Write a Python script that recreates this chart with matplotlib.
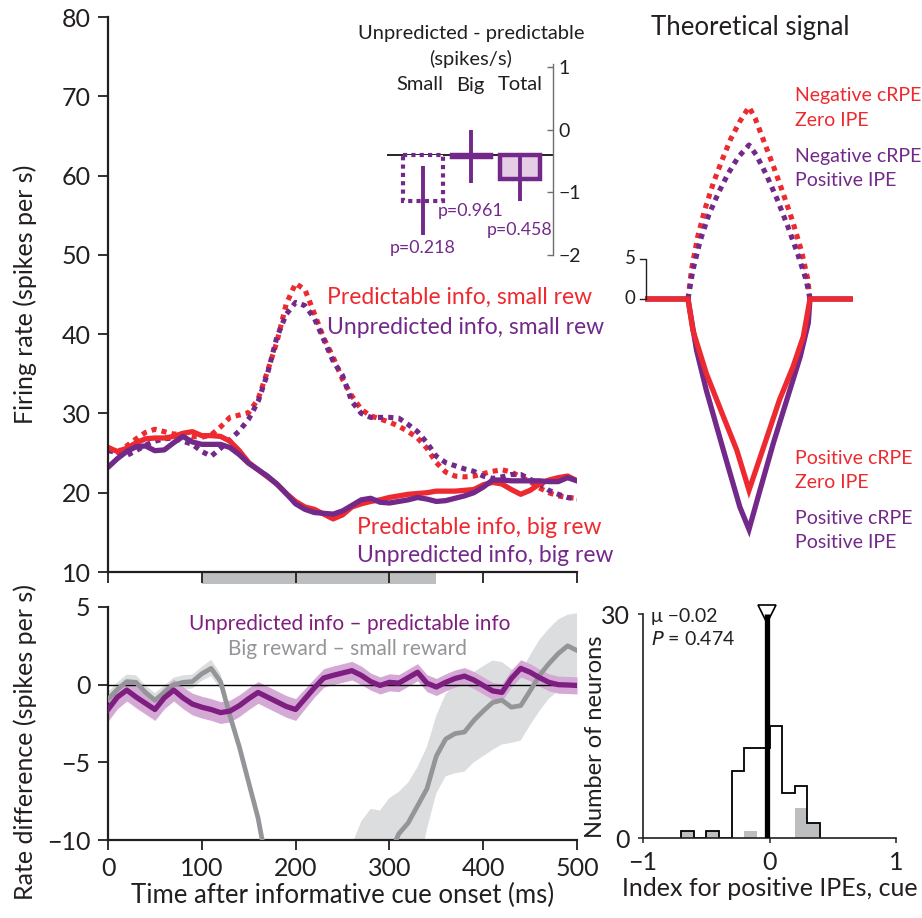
import numpy as np
import matplotlib
matplotlib.use('Agg')
import matplotlib.pyplot as plt
import matplotlib.transforms as mtransforms

plt.rcParams['font.family'] = ['Lato', 'DejaVu Sans']
plt.rcParams['axes.unicode_minus'] = True

RED = '#ed2a2f'
PURPLE = '#72298a'
DIFF_PURPLE = '#7e1e80'
DIFF_BAND = '#d4a9d5'
GREY = '#939598'
GREY_BAND = '#dcdddf'
INK = '#231f20'

# ---- population firing rates, 10 ms bins ----
t = np.arange(0, 510, 10)
pred_small = [25.7, 25.1, 25.9, 26.8, 27.6, 28.0, 27.7, 27.4, 27.4, 27.1,
              27.0, 27.3, 28.3, 29.5, 29.8, 30.1, 31.8, 35.3, 39.0, 43.8,
              46.4, 45.6, 42.6, 39.5, 37.1, 34.3, 32.2, 30.5, 29.7, 29.3,
              28.9, 28.4, 27.7, 26.9, 25.6, 23.8, 22.6, 22.1, 22.0, 22.1,
              22.4, 22.7, 22.9, 22.6, 22.0, 21.4, 20.6, 20.0, 19.6, 19.4, 19.3]
unpred_small = [25.3, 25.1, 24.7, 25.3, 26.0, 26.5, 26.8, 26.9, 26.5, 26.1,
                25.2, 24.6, 25.6, 26.7, 27.8, 29.3, 31.5, 35.0, 39.6, 42.5,
                44.0, 43.6, 42.0, 39.3, 36.6, 34.8, 31.5, 30.0, 29.5, 29.5,
                29.5, 29.4, 28.6, 27.7, 26.3, 24.6, 23.8, 23.4, 23.0, 22.7,
                22.1, 21.8, 22.0, 22.3, 22.3, 21.7, 21.1, 20.3, 19.8, 19.4, 19.2]
pred_big = [25.7, 25.2, 25.6, 26.3, 26.8, 26.9, 26.9, 27.1, 27.5, 27.7,
            27.2, 27.2, 27.1, 26.5, 25.3, 23.8, 22.9, 22.0, 21.1, 19.9,
            18.9, 18.2, 17.9, 17.3, 16.7, 17.2, 18.2, 18.6, 18.9, 19.1,
            19.4, 19.6, 19.8, 19.9, 20.0, 20.2, 20.2, 20.2, 20.3, 20.4,
            21.0, 21.3, 21.1, 20.4, 19.8, 20.3, 21.1, 21.6, 21.9, 22.1, 21.5]
unpred_big = [23.2, 24.3, 25.2, 25.8, 25.9, 25.3, 25.4, 26.3, 27.1, 26.4,
              26.1, 26.1, 26.1, 25.7, 24.8, 23.7, 22.9, 22.1, 21.1, 19.9,
              18.6, 17.9, 17.5, 17.4, 17.3, 17.7, 18.4, 19.1, 19.3, 18.8,
              18.7, 18.9, 19.1, 19.4, 19.2, 18.9, 19.0, 19.3, 19.6, 20.0,
              20.7, 21.6, 21.6, 21.5, 21.5, 21.5, 21.5, 21.4, 21.4, 21.9, 21.5]

# ---- difference traces (spikes/s) ----
info_diff = [-1.6, -0.8, -0.35, -0.8, -1.2, -1.6, -0.85, -0.35, -0.85, -1.25,
             -1.45, -1.6, -1.8, -1.7, -1.35, -0.9, -0.5, -0.8, -1.1, -1.4,
             -1.6, -0.9, -0.2, 0.43, 0.6, 0.75, 0.9, 0.6, 0.2, -0.05,
             0.15, 0.1, 0.45, 0.8, 0.1, -0.15, 0.15, 0.4, 0.55, 0.3,
             -0.05, -0.4, -0.5, 0.4, 1.05, 0.8, 0.45, 0.15, 0.0, -0.02, -0.05]
info_sem = [0.75, 0.75, 0.7, 0.7, 0.7, 0.7, 0.7, 0.7, 0.7, 0.7,
            0.7, 0.7, 0.7, 0.7, 0.7, 0.7, 0.7, 0.7, 0.7, 0.7,
            0.7, 0.65, 0.6, 0.6, 0.6, 0.6, 0.6, 0.6, 0.55, 0.55,
            0.55, 0.55, 0.55, 0.55, 0.55, 0.55, 0.55, 0.55, 0.55, 0.55,
            0.55, 0.55, 0.55, 0.55, 0.55, 0.55, 0.55, 0.55, 0.55, 0.55, 0.55]
nan = np.nan
rew_diff = [-0.95, -0.3, 0.2, 0.15, -0.5, -1.0, -0.5, 0.0, 0.15, 0.2,
            0.7, 1.05, 0.2, -2.0, -4.0, -6.3, -8.6, -11.8, nan, nan,
            nan, nan, nan, nan, nan, nan, nan, nan, nan, nan,
            -11.0, -9.6, -8.9, -7.8, -6.7, -4.6, -3.5, -3.15, -3.05, -2.3,
            -1.7, -1.15, -1.0, -1.45, -1.35, -0.4, 0.6, 1.35, 2.0, 2.5, 2.2]
rew_hi = [-0.5, 0.15, 0.65, 0.6, -0.05, -0.55, -0.05, 0.45, 0.6, 0.65,
          1.15, 1.6, 0.7, -1.65, -3.7, -6.0, -8.3, -11.5, nan, nan,
          nan, nan, nan, nan, nan, nan, -10.3, -8.8, -8.0, -8.1,
          -7.3, -6.9, -6.3, -5.3, -4.0, -2.0, -0.6, 0.0, 0.4, 0.8,
          1.2, 1.55, 1.45, 1.0, 0.8, 1.9, 2.9, 3.6, 4.2, 4.5, 4.6]
rew_lo = [-1.4, -0.75, -0.25, -0.3, -0.95, -1.45, -0.95, -0.45, -0.3, -0.25,
          0.25, 0.55, -0.3, -2.35, -4.3, -6.6, -8.9, -12.1, nan, nan,
          nan, nan, nan, nan, nan, nan, -12.0, -12.0, -12.0, -12.0,
          -12.0, -12.0, -12.0, -12.0, -9.3, -7.0, -5.9, -5.7, -5.6, -5.0,
          -4.6, -4.2, -3.85, -3.75, -3.6, -2.6, -1.7, -0.9, -0.4, -0.2, -0.1]

# ---- inset: unpredicted - predictable ----
inset_names = ['Small', 'Big', 'Total']
inset_base = -0.41
inset_vals = [-1.13, -0.43, -0.79]
inset_err = [0.55, 0.42, 0.35]
inset_p = ['p=0.218', 'p=0.961', 'p=0.458']

# ---- theoretical signal (arbitrary time units) ----
theo_red_dot_t = [0, 3, 8, 14, 21, 28, 35, 42.5, 50, 55, 62, 70, 78, 86, 93, 98, 100]
theo_red_dot_v = [0, 3.8, 7.8, 11.3, 14.6, 17.4, 20.0, 22.2, 24, 22.6, 19.8, 16.6, 13.2, 9.6, 6.0, 2.6, 0]
theo_pur_dot_t = [0, 4, 10, 17, 25, 33, 41, 50, 56, 64, 73, 82, 90, 97, 100]
theo_pur_dot_v = [0, 3.6, 7.3, 10.5, 13.3, 15.7, 17.7, 19.25, 18.0, 15.6, 12.5, 9.0, 5.6, 2.3, 0]
theo_red_t = [-33, 0, 4, 15, 29, 40, 50, 62, 75, 86, 94.5, 100, 133]
theo_red_v = [0, 0, -3.9, -9.3, -14.7, -18.9, -23.9, -18.5, -12.6, -8.5, -4.7, 0, 0]
theo_pur_t = [-33, 0, 7, 15, 29, 42.5, 50, 59, 70, 81, 92, 98.6, 100, 133]
theo_pur_v = [0, 0, -6.4, -11.4, -18.9, -26, -28.8, -23.9, -18, -12.6, -7.2, -3, 0, 0]

# ---- histogram of IPE index ----
hist_edges = np.round(np.arange(-0.7, 0.41, 0.1), 2)
hist_all = [1, 0, 1, 0, 9, 12, 12, 15, 6, 7, 2]
hist_sig = [1, 0, 1, 0, 0, 1, 0, 0, 0, 4, 2]
hist_mean = -0.02

W, H = 922, 918
fig = plt.figure(figsize=(W / 100, H / 100), dpi=100)


def px_axes(left, top, right, bottom):
    return fig.add_axes([left / W, 1 - bottom / H, (right - left) / W, (bottom - top) / H])


def px_text(x, y, s, **kw):
    kw.setdefault('ha', 'center')
    kw.setdefault('va', 'center')
    return fig.text(x / W, 1 - y / H, s, **kw)


def style_axes(ax):
    for side in ['top', 'right']:
        ax.spines[side].set_visible(False)
    for side in ['left', 'bottom']:
        ax.spines[side].set_linewidth(1.6)
        ax.spines[side].set_color(INK)
    ax.tick_params(direction='out', length=7.5, width=1.3, color=INK,
                   labelsize=18, labelcolor=INK, pad=5)


# main firing-rate panel
ax1 = px_axes(108, 17, 577, 572)
style_axes(ax1)
dots = dict(linestyle=(0, (1, 1)), lw=3.7, dash_capstyle='butt')
ax1.plot(t, pred_small, color=RED, **dots)
ax1.plot(t, unpred_small, color=PURPLE, **dots)
ax1.plot(t, pred_big, color=RED, lw=3.8, solid_capstyle='round')
ax1.plot(t, unpred_big, color=PURPLE, lw=3.8, solid_capstyle='round')
ax1.set_xlim(0, 500)
ax1.set_ylim(10, 80)
ax1.set_xticks([0, 100, 200, 300, 400, 500])
ax1.set_xticklabels([])
ax1.tick_params(axis='x', length=8)
ax1.set_yticks(range(10, 81, 10))
ax1.set_ylabel('Firing rate (spikes per s)', fontsize=18, color=INK)
ax1.yaxis.set_label_coords(-0.152, 0.5)
trans = mtransforms.blended_transform_factory(ax1.transData, ax1.transAxes)
ax1.add_patch(plt.Rectangle((100, -0.021), 250, 0.021, transform=trans,
                            color='#bcbec0', clip_on=False, zorder=0, lw=0))

px_text(327, 297, 'Predictable info, small rew', color=RED, fontsize=16.5, ha='left')
px_text(327, 327, 'Unpredicted info, small rew', color=PURPLE, fontsize=16.5, ha='left')
px_text(357, 527, 'Predictable info, big rew', color=RED, fontsize=16.5, ha='left')
px_text(357, 555, 'Unpredicted info, big rew', color=PURPLE, fontsize=16.5, ha='left')

# inset bar chart
ax_in = px_axes(386.6, 64, 553, 255)
pos = np.arange(len(inset_names))
heights = [v - inset_base for v in inset_vals]
ax_in.axhline(inset_base, color='black', lw=1.2, zorder=1)
b = ax_in.bar(pos, heights, bottom=inset_base, width=0.82, zorder=2)
b[0].set_facecolor('white')
b[0].set_edgecolor(PURPLE)
b[0].set_linewidth(3)
b[0].set_linestyle((0, (1, 1)))
b[0].set_capstyle('butt')
b[1].set_facecolor(PURPLE)
b[1].set_edgecolor(PURPLE)
b[1].set_linewidth(3.2)
b[2].set_facecolor('#e5cde5')
b[2].set_edgecolor(PURPLE)
b[2].set_linewidth(3.2)
ax_in.errorbar(pos, inset_vals, yerr=inset_err, fmt='none', ecolor=PURPLE,
               elinewidth=2.8, capsize=0, zorder=3)
ax_in.set_xlim(-0.75, 2.68)
ax_in.set_ylim(-2, 1.05)
for side in ['top', 'left', 'bottom']:
    ax_in.spines[side].set_visible(False)
ax_in.spines['right'].set_color('#6d6e71')
ax_in.spines['right'].set_linewidth(1)
ax_in.yaxis.tick_right()
ax_in.set_yticks([1, 0, -1, -2])
ax_in.tick_params(axis='y', direction='in', length=4, width=1, color='#6d6e71',
                  labelsize=14, labelcolor=INK, pad=4)
ax_in.set_xticks([])
ax_in.patch.set_alpha(0)
px_text(471, 33, 'Unpredicted - predictable', fontsize=14.5, color=INK)
px_text(471, 59, '(spikes/s)', fontsize=14.5, color=INK)
for x, name in zip([420, 470, 520], inset_names):
    px_text(x, 85, name, fontsize=14.5, color=INK)
for (x, y), p in zip([(423, 248), (471, 211), (520, 230)], inset_p):
    px_text(x, y, p, fontsize=12.8, color=PURPLE)

# theoretical signal
ax_th = px_axes(639.2, 83, 858.8, 555)
ax_th.plot(theo_red_dot_t, theo_red_dot_v, color=RED, **dots)
ax_th.plot(theo_pur_dot_t, theo_pur_dot_v, color=PURPLE, **dots)
ax_th.plot(theo_pur_t, theo_pur_v, color=PURPLE, lw=3.8, solid_joinstyle='miter')
ax_th.plot(theo_red_t, theo_red_v, color=RED, lw=3.8, solid_joinstyle='miter')
ax_th.plot([-39.3, -34.4, -34.4, -39.3], [5, 5, 0, 0], color=INK, lw=1)
ax_th.text(-43, 5, '5', ha='right', va='center', fontsize=13.5, color=INK)
ax_th.text(-43, 0, '0', ha='right', va='center', fontsize=13.5, color=INK)
ax_th.set_xlim(-40, 140)
ax_th.set_ylim(-32, 27)
ax_th.axis('off')
px_text(750, 28, 'Theoretical signal', fontsize=18.5, color=INK)
for y, s, c in [(96, 'Negative cRPE', RED), (121, 'Zero IPE', RED),
                (156, 'Negative cRPE', PURPLE), (181, 'Positive IPE', PURPLE),
                (459, 'Positive cRPE', RED), (483, 'Zero IPE', RED),
                (518, 'Positive cRPE', PURPLE), (542, 'Positive IPE', PURPLE)]:
    px_text(795, y, s, fontsize=14, color=c, ha='left')

# difference panel
ax2 = px_axes(108, 607, 577, 840)
style_axes(ax2)
ax2.fill_between(t, rew_lo, rew_hi, color=GREY_BAND, lw=0, zorder=1)
lo = np.array(info_diff) - np.array(info_sem)
hi = np.array(info_diff) + np.array(info_sem)
ax2.fill_between(t, lo, hi, color=DIFF_BAND, lw=0, zorder=2)
ax2.axhline(0, color='black', lw=1, zorder=3)
ax2.plot(t, rew_diff, color=GREY, lw=3.4, zorder=4)
ax2.plot(t, info_diff, color=DIFF_PURPLE, lw=3.8, zorder=5)
ax2.set_xlim(0, 500)
ax2.set_ylim(-10, 5)
ax2.set_xticks([0, 100, 200, 300, 400, 500])
ax2.set_yticks([5, 0, -5, -10])
ax2.set_xlabel('Time after informative cue onset (ms)', fontsize=18.5, color=INK, labelpad=2)
ax2.set_ylabel('Rate difference (spikes per s)', fontsize=18, color=INK)
ax2.yaxis.set_label_coords(-0.152, 0.42)
px_text(350, 624, 'Unpredicted info \u2013 predictable info', fontsize=15, color=DIFF_PURPLE)
px_text(347, 649, 'Big reward \u2013 small reward', fontsize=15, color=GREY)

# histogram of positive-IPE index
ax3 = px_axes(643, 614, 896, 838)
style_axes(ax3)
centers = hist_edges[:-1] + 0.05
ax3.bar(centers, hist_sig, width=0.1, color='#bcbec0', lw=0, zorder=1)
ax3.stairs(hist_all, hist_edges, color='black', lw=1.3, zorder=2)
ax3.plot([hist_mean, hist_mean], [0, 30], color='black', lw=3.8, zorder=3,
         solid_capstyle='butt')
ax3.plot([hist_mean], [30], marker='v', ms=13, mfc='none', mec='black', mew=1.2,
         clip_on=False, zorder=4)
ax3.set_xlim(-1, 1)
ax3.set_ylim(0, 30)
ax3.set_xticks([-1, 0, 1])
ax3.set_yticks([0, 30])
ax3.spines['left'].set_linewidth(1.2)
ax3.spines['bottom'].set_linewidth(1.2)
ax3.tick_params(length=3.5, width=1.1, pad=6)
ax3.set_xlabel('Index for positive IPEs, cue', fontsize=18, color=INK, labelpad=2)
ax3.set_ylabel('Number of neurons', fontsize=17, color=INK)
ax3.yaxis.set_label_coords(-0.145, 0.45)
ax3.text(0.03, 0.99, '\u03bc \u22120.02', transform=ax3.transAxes, fontsize=14,
         color=INK, va='center')
ax3.text(0.03, 0.89, '$P$ = 0.474', transform=ax3.transAxes, fontsize=14,
         color=INK, va='center')

fig.savefig('out.png', dpi=100)
